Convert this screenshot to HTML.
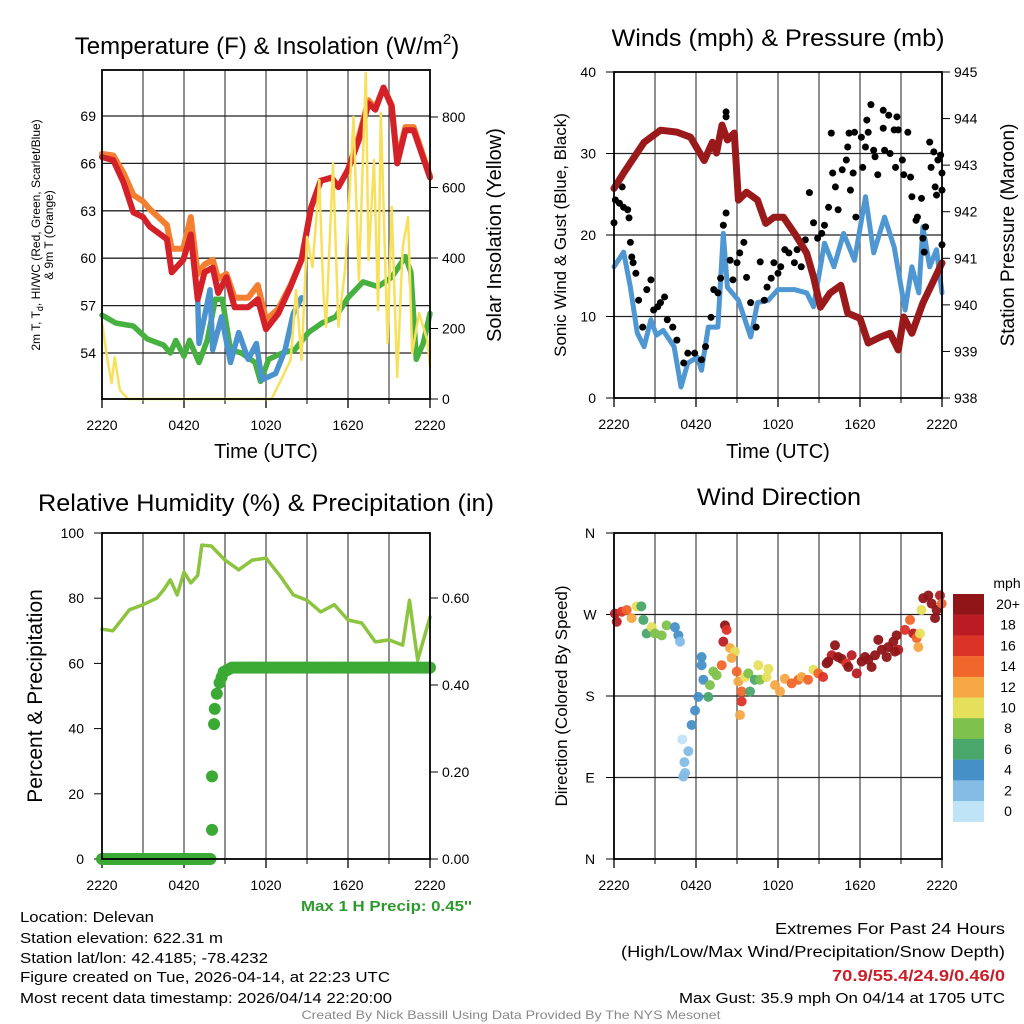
<!DOCTYPE html>
<html><head><meta charset="utf-8"><style>
html,body{margin:0;padding:0;background:#fff;}
svg{display:block;font-family:"Liberation Sans",sans-serif;}
</style></head><body>
<svg id="fig" width="1024" height="1024" viewBox="0 0 1024 1024">
<g id="p1"></g>
<g id="p2"></g>
<g id="p3"></g>
<g id="p4"></g>
<g id="txt">
<text x="267" y="54" font-size="24" text-anchor="middle">Temperature (F) &amp; Insolation (W/m<tspan font-size="15" dy="-10">2</tspan><tspan dy="10">)</tspan></text>
<text x="778" y="46" font-size="24" text-anchor="middle" textLength="333" lengthAdjust="spacingAndGlyphs">Winds (mph) &amp; Pressure (mb)</text>
<text x="266" y="511" font-size="24" text-anchor="middle" textLength="456" lengthAdjust="spacingAndGlyphs">Relative Humidity (%) &amp; Precipitation (in)</text>
<text x="779" y="505" font-size="24" text-anchor="middle" textLength="164" lengthAdjust="spacingAndGlyphs">Wind Direction</text>
<text x="266" y="458" font-size="20" text-anchor="middle">Time (UTC)</text>
<text x="778" y="458" font-size="20" text-anchor="middle">Time (UTC)</text>
<g transform="translate(40,235) rotate(-90)"><text x="0" y="0" font-size="12" text-anchor="middle">2m T, T<tspan font-size="9" dy="3">d</tspan><tspan dy="-3">, HI/WC (Red, Green, Scarlet/Blue)</tspan></text><text x="0" y="13" font-size="12" text-anchor="middle">&amp; 9m T (Orange)</text></g>
<text transform="translate(501,235) rotate(-90)" font-size="20" text-anchor="middle">Solar Insolation (Yellow)</text>
<text transform="translate(566,235) rotate(-90)" font-size="17" text-anchor="middle">Sonic Wind &amp; Gust (Blue, Black)</text>
<text transform="translate(1014,235) rotate(-90)" font-size="19" text-anchor="middle">Station Pressure (Maroon)</text>
<text transform="translate(42,696) rotate(-90)" font-size="21" text-anchor="middle">Percent &amp; Precipitation</text>
<text transform="translate(567,696) rotate(-90)" font-size="17" text-anchor="middle">Direction (Colored By Speed)</text>
<text x="472" y="911" font-size="15" font-weight="bold" fill="#2e9a2e" text-anchor="end" textLength="171" lengthAdjust="spacingAndGlyphs">Max 1 H Precip: 0.45''</text>
<text x="20" y="922" font-size="15" textLength="134" lengthAdjust="spacingAndGlyphs">Location: Delevan</text>
<text x="20" y="943" font-size="15" textLength="203" lengthAdjust="spacingAndGlyphs">Station elevation: 622.31 m</text>
<text x="20" y="963" font-size="15" textLength="248" lengthAdjust="spacingAndGlyphs">Station lat/lon: 42.4185; -78.4232</text>
<text x="20" y="982" font-size="15" textLength="370" lengthAdjust="spacingAndGlyphs">Figure created on Tue, 2026-04-14, at 22:23 UTC</text>
<text x="20" y="1003" font-size="15" textLength="372" lengthAdjust="spacingAndGlyphs">Most recent data timestamp: 2026/04/14 22:20:00</text>
<text x="1005" y="934" font-size="16" text-anchor="end" textLength="230" lengthAdjust="spacingAndGlyphs">Extremes For Past 24 Hours</text>
<text x="1005" y="957" font-size="16" text-anchor="end" textLength="384" lengthAdjust="spacingAndGlyphs">(High/Low/Max Wind/Precipitation/Snow Depth)</text>
<text x="1005" y="981" font-size="16" font-weight="bold" fill="#c8202a" text-anchor="end" textLength="173" lengthAdjust="spacingAndGlyphs">70.9/55.4/24.9/0.46/0</text>
<text x="1005" y="1003" font-size="15" text-anchor="end" textLength="326" lengthAdjust="spacingAndGlyphs">Max Gust: 35.9 mph On 04/14 at 1705 UTC</text>
<text x="511" y="1019" font-size="12" fill="#888" text-anchor="middle" textLength="419" lengthAdjust="spacingAndGlyphs">Created By Nick Bassill Using Data Provided By The NYS Mesonet</text>
</g>
</svg>
<script>
// ---- Panel 1 data ----
const tempHours=[0,0.83,1.57,2.3,3.0,3.5,4.75,5.1,5.95,6.5,7.0,7.5,8.1,8.5,9.1,9.7,10.7,11.4,12.0,12.9,13.8,14.6,15.3,16.0,16.8,17.3,18.0,18.8,19.5,20.0,20.6,21.2,21.6,22.2,22.8,24];
const tempRed=[66.4,66.2,64.8,62.9,62.6,62.0,61.2,59.1,59.9,61.5,57.4,59.1,59.4,57.8,58.8,56.9,56.9,57.4,55.5,56.5,58.2,59.9,63.2,64.9,65.1,64.5,65.6,67.5,69.8,69.4,70.8,69.6,66.0,68.1,68.1,65.1];
const temp9m=[66.6,66.5,65.4,64.0,63.6,63.1,62.1,60.6,60.6,62.6,59.0,59.6,59.9,58.7,59.0,57.5,57.5,58.3,56.1,56.8,58.3,59.9,63.2,64.9,65.1,64.5,65.6,67.7,70.0,69.5,70.8,69.7,66.2,68.3,68.3,65.2];
const dewHours=[0,1.0,2.3,3.3,4.5,5.0,5.4,6.0,6.4,7.1,7.7,8.3,8.8,9.4,10.2,11.2,11.6,12.2,13.2,14.1,15.1,16.1,17.1,18.0,19.1,20.2,21.2,22.2,22.6,23.0,23.5,24];
const dewVals=[56.4,55.9,55.7,54.9,54.5,54.0,54.8,53.8,54.8,53.4,54.8,57.4,57.4,54.2,54.0,53.4,52.2,53.6,54.0,54.2,55.3,55.9,56.3,57.5,58.5,58.2,58.8,60.1,59.1,53.6,54.6,56.5];
const wcHours=[7.0,7.1,7.9,8.1,8.75,9.4,10.0,10.7,11.3,11.7,12.7,13.4,14.0,14.6];
const wcVals=[57.4,54.6,58.0,54.2,56.3,53.4,55.3,53.6,54.6,52.3,52.7,54.2,56.5,57.5];
const solHours=[0,0.4,0.7,0.93,1.3,1.9,12.4,13.2,13.8,14.2,14.6,15.0,15.4,15.9,16.2,16.4,16.9,17.3,17.8,18.2,18.4,18.8,19.3,19.5,19.9,20.2,20.4,20.9,21.2,21.6,22.0,22.4,22.7,23.2,23.8,24];
const solVals=[216,111,45,119,26,0,0,62,111,309,111,460,374,621,300,205,669,205,374,650,800,337,925,394,678,252,811,159,545,62,431,516,130,244,167,91];
const tempTicks=[54,57,60,63,66,69];
const solTicks=[0,200,400,600,800];
const timeTickHours=[0,6,12,18,24];
const timeTickLabels=["2220","0420","1020","1620","2220"];
// ---- Panel 2 data ----
const presHours=[0,0.7,2.2,3.4,4.6,5.6,6.6,7.2,7.5,7.9,8.3,8.8,9.1,9.7,10.5,11.1,11.7,12.4,13.2,14.1,14.6,15.1,15.8,16.6,17.1,18.0,18.6,19.5,20.2,20.8,21.2,21.8,22.6,23.4,24];
const presVals=[942.5,942.83,943.49,943.75,943.71,943.6,943.1,943.49,943.26,943.86,943.54,943.69,942.25,942.42,942.25,941.75,941.88,941.88,941.54,941.11,940.6,939.95,940.25,940.42,939.82,939.71,939.18,939.31,939.39,939.03,939.74,939.39,940.04,940.53,940.9];
const windHours=[0,0.7,1.2,1.7,2.2,2.7,3.1,3.6,4.4,4.9,5.4,6.1,6.4,6.9,7.6,8.0,8.3,9.1,10.0,10.5,11.3,12.0,13.2,14.1,14.6,15.4,16.1,16.8,17.6,18.4,19.0,19.8,20.5,21.3,21.8,22.3,22.6,23.1,23.6,24];
const windVals=[16.1,17.9,13.6,8.0,6.3,9.6,7.7,8.3,6.3,1.35,4.3,5.0,3.4,8.7,8.7,20.2,13.6,12.0,7.5,11.7,12.0,13.3,13.3,12.9,11.2,19.0,16.1,20.2,16.9,24.7,17.8,22.2,18.5,10.8,16.1,12.9,21.0,16.1,18.2,12.9];
const gustHours=[0,0.1,0.4,0.6,0.7,1.0,1.1,1.2,1.3,1.4,1.6,1.8,2.1,2.4,2.7,2.9,3.2,3.4,3.7,3.9,4.3,4.6,5.1,5.4,5.9,6.4,6.7,7.1,7.3,7.6,7.8,8.0,8.2,8.2,8.2,8.5,8.7,9.0,9.2,9.5,9.7,10.0,10.4,10.7,11.0,11.2,11.5,11.7,12.0,12.2,12.5,12.8,13.2,13.4,13.7,14.0,14.3,14.6,14.9,15.2,15.4,15.7,15.9,16.0,16.2,16.4,16.7,17.0,17.1,17.2,17.3,17.5,17.6,17.7,18.1,18.2,18.4,18.5,18.6,18.8,19.0,19.1,19.3,19.7,19.8,19.7,20.1,20.2,20.5,20.6,20.7,20.8,21.1,21.2,21.5,21.7,21.8,22.1,22.2,22.5,22.6,22.7,22.8,23.1,23.2,23.4,23.5,23.6,23.7,23.9,24.0,24.0,24.0];
const gustVals=[21.5,24.3,23.9,25.9,23.4,23.1,22.1,19.1,17.3,16.6,15.3,12.0,8.7,13.3,14.5,10.8,11.2,11.7,12.4,9.6,8.7,7.1,4.3,5.5,5.5,4.7,6.3,9.9,13.3,12.9,14.7,21.2,22.7,35.1,34.5,16.9,14.5,16.6,17.8,19.1,14.8,11.7,8.7,16.7,12.0,13.6,14.7,16.6,15.3,16.1,18.2,17.8,16.6,18.2,16.1,19.4,25.2,21.5,19.6,20.2,21.2,23.4,32.5,27.6,25.9,23.1,28.0,29.2,30.8,32.5,25.5,27.6,32.6,22.2,32.0,28.3,30.8,34.1,32.6,36.0,30.4,29.6,27.4,33.1,30.4,35.3,34.7,30.0,32.9,28.3,34.5,32.9,29.2,27.4,32.6,27.1,24.7,21.8,22.2,24.5,19.6,17.9,21.0,31.4,28.3,30.2,25.9,24.9,29.2,29.8,27.6,25.5,18.8];
const windTicks=[0,10,20,30,40];
const presTicks=[938,939,940,941,942,943,944,945];
// ---- Panel 3 data ----
const rhHours=[0,0.8,2.0,3.0,4.0,4.5,5.0,5.5,6.0,6.5,7.0,7.3,8.0,9.0,10.0,11.0,12.0,13.0,14.0,15.0,16.0,17.0,18.0,19.0,20.0,21.0,22.0,22.5,22.8,23.1,24];
const rhVals=[70.5,70,76.4,78,80,82.5,85.6,81,88,84.7,87,96.3,96,91.7,88.7,91.7,92.3,87,81,79.4,75.8,78,73.3,72.4,66.6,67.2,65.6,79.4,70,61,74.2];
const precipHours=[0,1,2,3,4,5,6,7,7.8,8.05,8.05,8.2,8.25,8.4,8.6,8.9,9.5,10.5,12,14,16,18,20,22,24];
const precipVals=[0,0,0,0,0,0,0,0,0,0.067,0.19,0.31,0.345,0.38,0.405,0.43,0.44,0.44,0.44,0.44,0.44,0.44,0.44,0.44,0.44];
const pctTicks=[0,20,40,60,80,100];
const inTicks=[0,0.2,0.4,0.6];
// ---- Panel 4 data ----
const dirHours=[0.07,0.2,0.56,0.93,1.29,1.66,2.0,2.15,2.39,2.76,3.0,3.49,3.85,4.46,4.71,4.83,5.07,5.2,5.15,5.44,5.0,5.68,5.93,6.17,6.54,6.41,6.41,6.9,7.02,7.27,7.51,7.88,8.0,8.12,8.24,8.49,8.85,8.61,8.98,9.1,9.34,9.34,9.22,9.59,9.83,9.95,10.3,10.56,10.68,11.17,11.3,11.78,12.15,12.5,13.0,13.49,13.73,14.2,14.6,14.95,15.3,15.56,15.93,16.17,16.66,17.0,17.39,17.76,18.12,18.61,19.1,19.34,19.6,19.95,20.44,20.68,20.8,21.29,21.66,21.9,22.15,22.39,22.27,22.63,23.0,23.24,23.61,23.85,23.98,22.5,23.49,15.68,16.4,17.15,18.37,18.85,20.07,20.56];
const dirVals=[271,262,273,275,266,279,279,264,249,256,249,247,258,256,247,240,91,95,107,119,132,148,164,179,198,214,223,179,192,207,203,214,240,258,253,233,229,222,207,196,185,174,159,201,205,185,198,214,198,201,210,192,185,199,194,198,201,198,209,205,201,216,225,236,221,216,225,205,218,220,225,242,231,223,240,247,231,253,264,249,244,249,234,288,291,282,275,291,282,275,266,218,223,212,223,212,234,229];
const dirSpeeds=[18,18,16,14,12,10,6,6,6,10,8,8,8,4,4,2,2,2,2,2,0,4,4,4,4,4,4,6,8,8,8,14,18,20,16,12,10,12,14,12,14,16,12,10,8,6,6,10,8,10,10,12,12,12,14,14,12,14,10,14,16,20,18,20,20,16,18,18,20,20,20,20,20,20,20,20,18,16,14,18,14,10,12,20,20,20,20,18,14,10,20,20,20,20,20,20,20,20];
const dirTicks=[0,90,180,270,360];
const dirTickLabels=["N","E","S","W","N"];
const speedLabels=["20+","18","16","14","12","10","8","6","4","2","0"];
const speedColors=["#8f1519","#bb1c24","#db3328","#f0662b","#f6a845","#e6df5c","#7ec24b","#4aa76c","#4690c8","#84bce6","#c0e4f7"];

const NS="http://www.w3.org/2000/svg";
function mk(parent,tag,attrs){const e=document.createElementNS(NS,tag);for(const k in attrs)e.setAttribute(k,attrs[k]);parent.appendChild(e);return e;}
function txt(parent,x,y,s,size,anchor){const e=mk(parent,'text',{x:x,y:y,'font-size':size,'text-anchor':anchor});e.textContent=s;return e;}

function panel(g,L,R,T,B){
  const xs=h=>L+(R-L)*h/24;
  for(let h=3;h<24;h+=3){const l=mk(g,'line',{x1:xs(h),x2:xs(h),y1:T,y2:B,stroke:'#555','stroke-width':1.3});
    
    }
  for(let i=0;i<timeTickHours.length;i++){
    const t=txt(g,xs(timeTickHours[i]),B+31,timeTickLabels[i],14,'middle');
    
    
    mk(g,'line',{x1:xs(timeTickHours[i]),x2:xs(timeTickHours[i]),y1:B,y2:B+9,stroke:'#000','stroke-width':1.3});
  }
  for(let h=3;h<24;h+=3){ if(h%6) mk(g,'line',{x1:xs(h),x2:xs(h),y1:B,y2:B+5,stroke:'#000','stroke-width':1});}
  return xs;
}
function frame(g,L,R,T,B){const r=mk(g,'rect',{x:L,y:T,width:R-L,height:B-T,fill:'none',stroke:'#000','stroke-width':1.8});
  
  }
function path(g,xs,ys,hours,vals,color,w){let d='';for(let i=0;i<hours.length;i++)d+=(i?'L':'M')+xs(hours[i]).toFixed(1)+','+ys(vals[i]).toFixed(1);
  return mk(g,'path',{d:d,fill:'none',stroke:color,'stroke-width':w,'stroke-linejoin':'round','stroke-linecap':'round'});}

// Panel 1
(function(){
  const g=document.getElementById('p1');const L=102,R=430,T=70,B=399;
  const xs=panel(g,L,R,T,B);
  const yT=v=>353-(v-54)*15.8, yS=v=>399-v*0.3525;
  tempTicks.forEach(v=>{mk(g,'line',{x1:L,x2:R,y1:yT(v),y2:yT(v),stroke:'#222','stroke-width':1.3});
    const t=txt(g,L-6,yT(v)+5,String(v),14,'end');
    
    });
  solTicks.forEach(v=>{mk(g,'line',{x1:R,x2:R+8,y1:yS(v),y2:yS(v),stroke:'#000'});
    const t=txt(g,R+12,yS(v)+5,String(v),14,'start');
    
    });
  let p=path(g,xs,yT,dewHours,dewVals,'#46b040',5.5);
  
  
  p=path(g,xs,yT,wcHours,wcVals,'#4a93cf',5.5);
  
  
  p=path(g,xs,yT,tempHours,temp9m,'#f47f30',6);
  
  
  p=path(g,xs,yT,tempHours,tempRed,'#d42028',6);
  
  
  p=path(g,xs,yS,solHours,solVals,'#f7e05c',2.5);
  
  
  frame(g,L,R,T,B);
})();

// Panel 2
(function(){
  const g=document.getElementById('p2');const L=614,R=942,T=72,B=398;
  const xs=panel(g,L,R,T,B);
  const yW=v=>B-v*8.15, yP=v=>B-(v-938)*46.57;
  windTicks.forEach(v=>{if(v>0&&v<40)mk(g,'line',{x1:L,x2:R,y1:yW(v),y2:yW(v),stroke:'#222','stroke-width':1.3});
    mk(g,'line',{x1:L-8,x2:L,y1:yW(v),y2:yW(v),stroke:'#000'});
    const t=txt(g,L-18,yW(v)+5,String(v),14,'end');
    
    });
  presTicks.forEach(v=>{mk(g,'line',{x1:R,x2:R+8,y1:yP(v),y2:yP(v),stroke:'#000'});
    const t=txt(g,R+12,yP(v)+5,String(v),14,'start');
    
    });
  let p=path(g,xs,yW,windHours,windVals,'#4f97d3',5);
  
  
  for(let i=0;i<gustHours.length;i++){const c=mk(g,'circle',{cx:xs(gustHours[i]),cy:yW(gustVals[i]),r:3.5,fill:'#000'});
    
    }
  p=path(g,xs,yP,presHours,presVals,'#9a1a1c',7);
  
  
  frame(g,L,R,T,B);
})();

// Panel 3
(function(){
  const g=document.getElementById('p3');const L=102,R=430,T=533,B=859;
  const xs=panel(g,L,R,T,B);
  const yR=v=>B-v*3.26, yI=v=>B-v*435;
  pctTicks.forEach(v=>{mk(g,'line',{x1:L-8,x2:L,y1:yR(v),y2:yR(v),stroke:'#000'});
    const t=txt(g,L-18,yR(v)+5,String(v),14,'end');
    
    });
  inTicks.forEach(v=>{mk(g,'line',{x1:R,x2:R+8,y1:yI(v),y2:yI(v),stroke:'#000'});
    const t=txt(g,R+12,yI(v)+5,v.toFixed(2),14,'start');
    
    });
  let p=path(g,xs,yR,rhHours,rhVals,'#8cc43f',3.5);
  
  
  for(let i=0;i<precipHours.length-1;i++){
    const n=Math.max(1,Math.round((precipHours[i+1]-precipHours[i])*6));
    for(let k=0;k<n;k++){const f=k/n;const h=precipHours[i]+(precipHours[i+1]-precipHours[i])*f;
      const v=(precipVals[i+1]-precipVals[i]>0.05)?precipVals[i]:precipVals[i]+(precipVals[i+1]-precipVals[i])*f;
      const c=mk(g,'circle',{cx:xs(h),cy:yI(v),r:6,fill:'#3aaa35'});
      
      }
  }
  const last=mk(g,'circle',{cx:xs(24),cy:yI(precipVals[precipVals.length-1]),r:6,fill:'#3aaa35'});
  
  
  frame(g,L,R,T,B);
})();

// Panel 4
(function(){
  const g=document.getElementById('p4');const L=614,R=942,T=533,B=859;
  const xs=panel(g,L,R,T,B);
  const yD=v=>B-v*0.9056;
  dirTicks.forEach((v,i)=>{if(v>0&&v<360)mk(g,'line',{x1:L,x2:R,y1:yD(v),y2:yD(v),stroke:'#222','stroke-width':1.3});
    mk(g,'line',{x1:L-8,x2:L,y1:yD(v),y2:yD(v),stroke:'#000'});
    const t=txt(g,L-24,yD(v)+5,dirTickLabels[i],14,'middle');
    
    });
  for(let i=0;i<dirHours.length;i++){
    const idx=10-Math.min(10,Math.round(dirSpeeds[i]/2));
    const c=mk(g,'circle',{cx:xs(dirHours[i]),cy:yD(dirVals[i]),r:5,fill:speedColors[idx],'fill-opacity':0.95});
    
    
  }
  frame(g,L,R,T,B);
  const cb=mk(g,'g',{});
  
  
  const t0=txt(cb,1007,588,'mph',14,'middle');
  
  
  for(let i=0;i<speedColors.length;i++){
    const r=mk(cb,'rect',{x:953,y:594+i*20.7,width:31,height:20.9,fill:speedColors[i]});
    
    
    const t=txt(cb,1008,594+i*20.7+15,speedLabels[i],14,'middle');
    
    
  }
})();
</script>
</body></html>
